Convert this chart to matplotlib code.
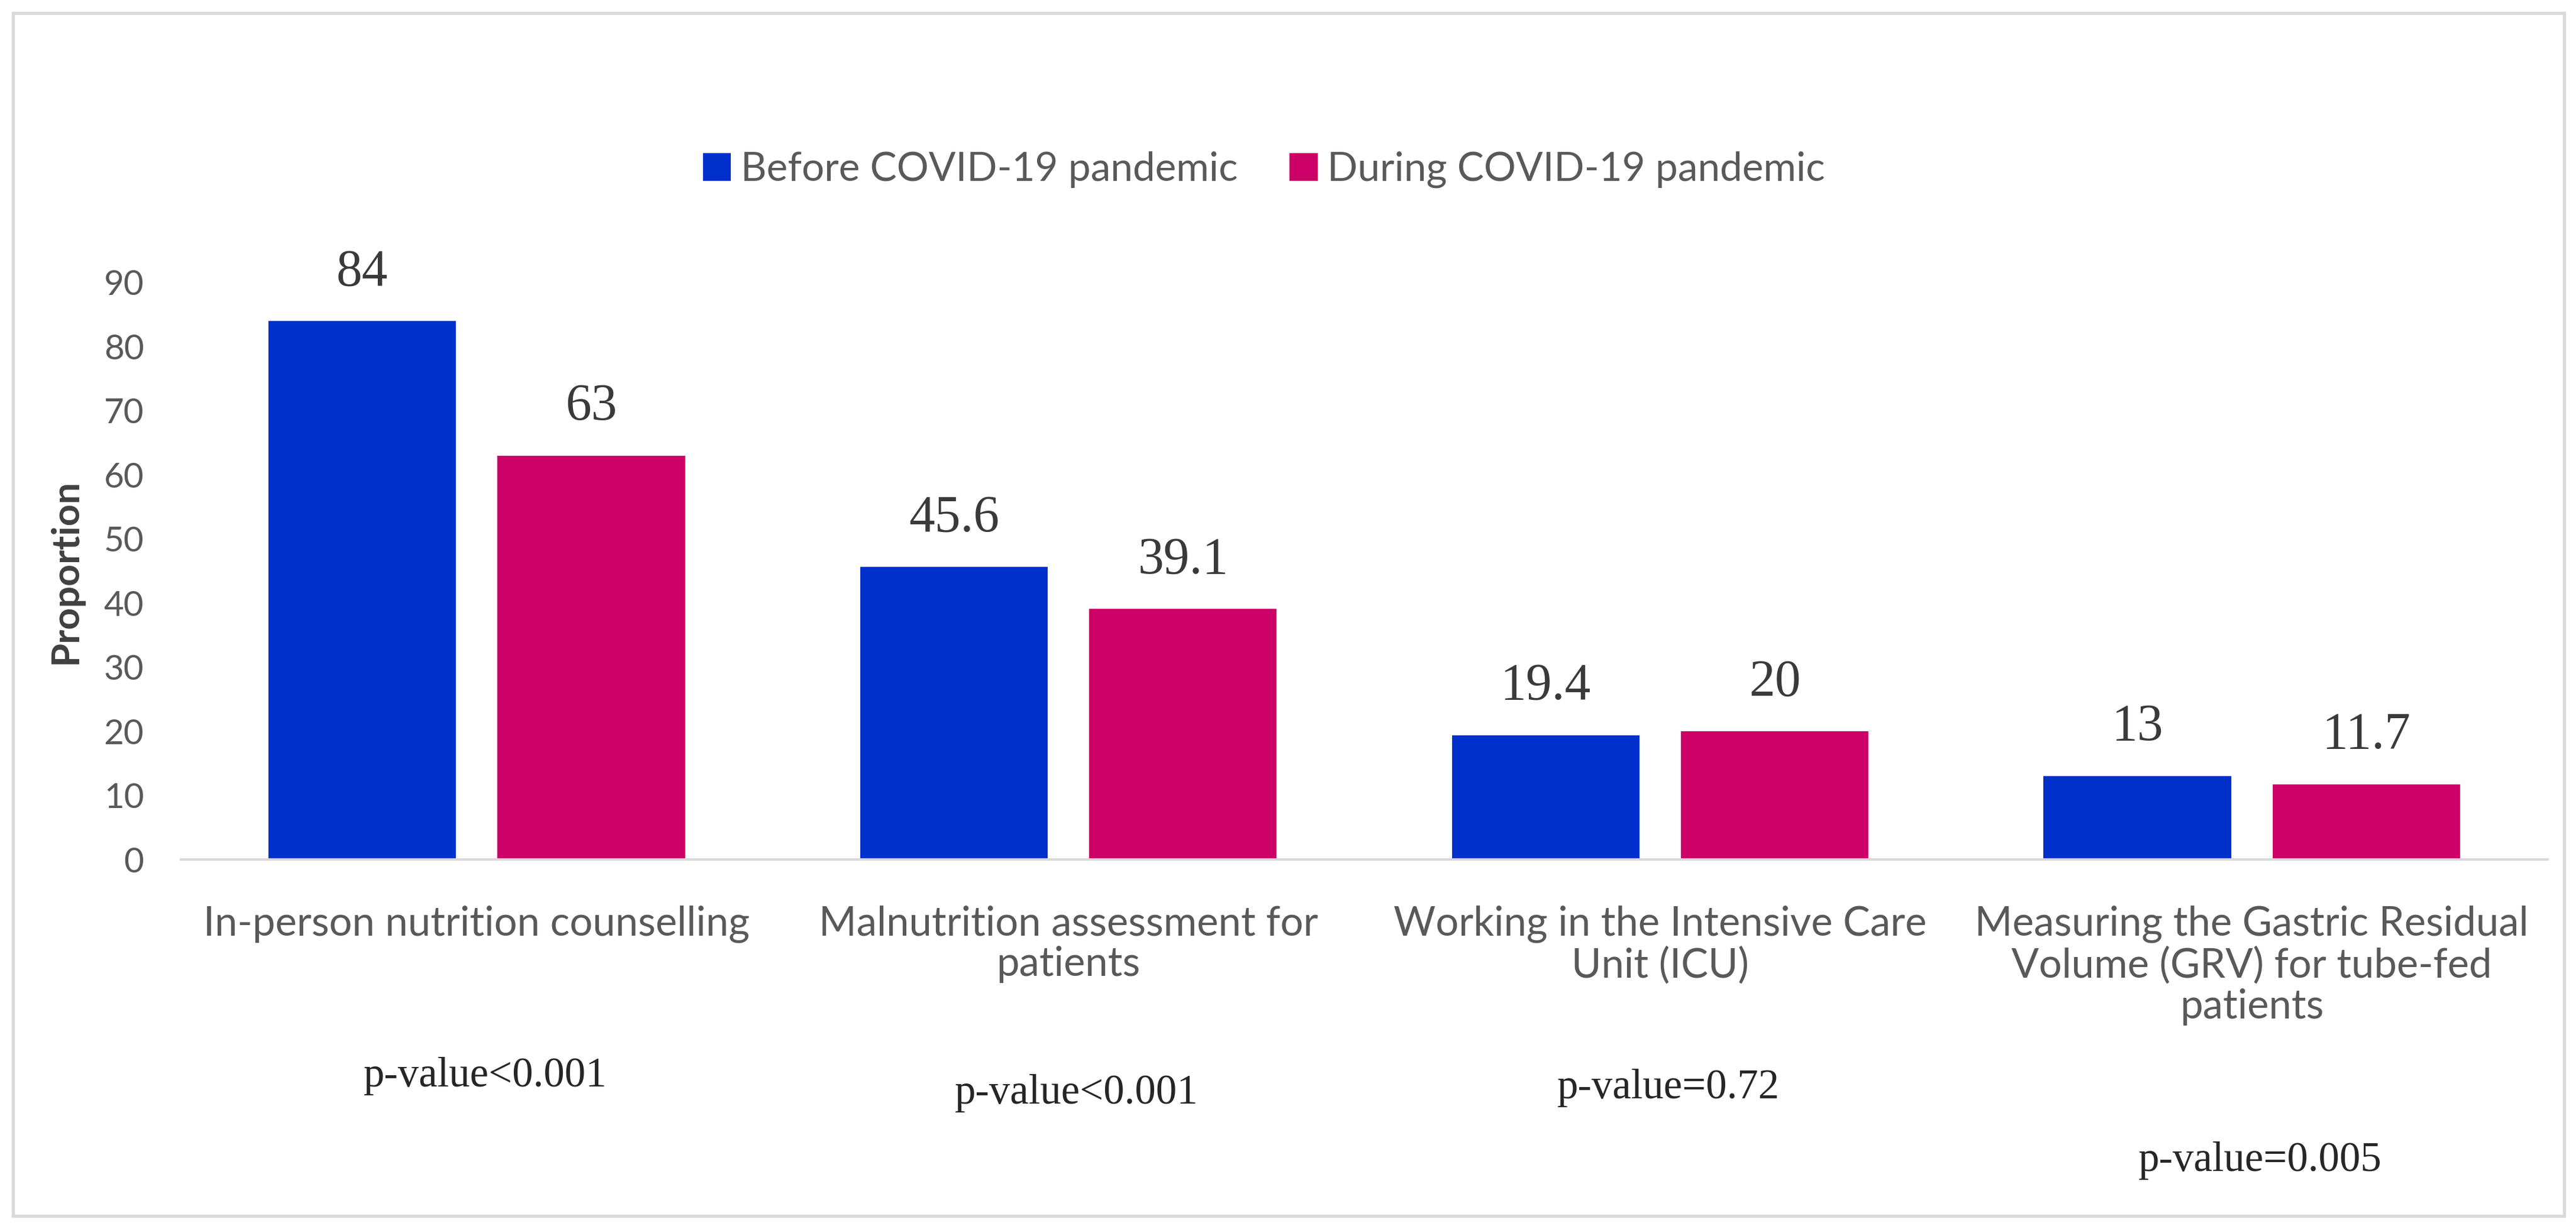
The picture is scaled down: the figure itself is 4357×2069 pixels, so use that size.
import matplotlib
matplotlib.use("Agg")
import matplotlib.pyplot as plt
from matplotlib.patches import Rectangle
import numpy as np

# data
categories = ["In-person nutrition counselling",
              "Malnutrition assessment for\npatients",
              "Working in the Intensive Care\nUnit (ICU)",
              "Measuring the Gastric Residual\nVolume (GRV) for tube-fed\npatients"]
before = [84, 45.6, 19.4, 13]
during = [63, 39.1, 20, 11.7]
p_values = ["p-value<0.001", "p-value<0.001", "p-value=0.72", "p-value=0.005"]
p_heights = [-0.376, -0.405, -0.396, -0.522]
series_names = ["Before COVID-19 pandemic", "During COVID-19 pandemic"]

blue = "#0030CC"
pink = "#CC0066"
sans = ["Lato", "DejaVu Sans"]
serif = ["Liberation Serif", "DejaVu Serif"]

fig = plt.figure(figsize=(4357 / 300, 2069 / 300), dpi=300)
ax = fig.add_axes([306 / 4357, 615 / 2069, 4003 / 4357, 976 / 2069])

x = np.arange(len(categories))
w = 0.317
off = w / 2 + 0.035
b1 = ax.bar(x - off, before, w, color=blue, label=series_names[0])
b2 = ax.bar(x + off, during, w, color=pink, label=series_names[1])

for bars, vals in [(b1, before), (b2, during)]:
    ax.bar_label(bars, labels=[f"{v:g}" for v in vals], padding=10,
                 fontsize=21, family=serif, color="#3A3A3A")

ax.set_xlim(-0.5, len(categories) - 0.5)
ax.set_ylim(0, 90)
ax.set_yticks(np.arange(0, 91, 10))
ax.set_xticks(x)
ax.set_xticklabels(categories, family=sans, fontsize=16.5, color="#595959",
                   linespacing=1.12)
for lab in ax.get_yticklabels():
    lab.set_family(sans)
    lab.set_fontsize(14)
    lab.set_color("#595959")
ax.tick_params(axis="y", length=0, pad=15)
ax.tick_params(axis="x", length=0, pad=18.5)

for s in ["top", "right", "left"]:
    ax.spines[s].set_visible(False)
ax.spines["bottom"].set_color("#D9D9D9")
ax.spines["bottom"].set_linewidth(1.0)

ax.set_ylabel("Proportion", family=sans, fontsize=15.5, fontweight="bold",
              color="#404040")
ax.yaxis.label.set_va("center")
ax.yaxis.set_label_coords(-195 / 4003, 0.5)

for i, (t, h) in enumerate(zip(p_values, p_heights)):
    ax.annotate(t, xy=(i + 0.014, h), xycoords=("data", "axes fraction"),
                ha="center", va="center", fontsize=17, family=serif,
                color="#262626", annotation_clip=False)

fig.legend(loc="center", bbox_to_anchor=(2138 / 4357, 1 - 287 / 2069),
           ncol=2, frameon=False, prop={"family": sans, "size": 16.2},
           labelcolor="#595959", handlelength=0.7, handleheight=0.7,
           handletextpad=0.25, columnspacing=1.3)

fig.patches.append(Rectangle((22 / 4357, 12 / 2069), 4315 / 4357, 2035 / 2069,
                             transform=fig.transFigure, fill=False,
                             edgecolor="#D9D9D9", linewidth=1.3))

fig.savefig("out.png", dpi=300, facecolor="white")
